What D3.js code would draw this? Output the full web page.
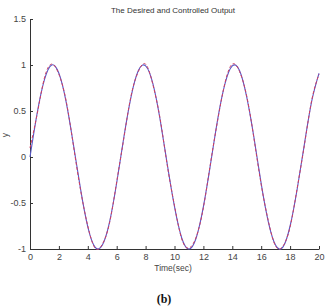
<!doctype html>
<html lang="en">
<head>
<meta charset="UTF-8">
<title>The Desired and Controlled Output</title>
<style>
  body { margin: 0; background: #fff; }
  svg { display: block; font-family: "Liberation Sans", Arial, sans-serif; }
  .axis path, .axis line { stroke: #333; }
  .axis text { fill: #444; font-size: 9px; }
</style>
</head>
<body>
<div class="chart"></div>
<script src="https://d3js.org/d3.v7.min.js"></script>
<script>
  const time = [0, 0.5, 1, 1.5, 2, 2.5, 3, 3.5, 4, 4.5, 5, 5.5, 6, 6.5, 7, 7.5, 8, 8.5, 9, 9.5,
    10, 10.5, 11, 11.5, 12, 12.5, 13, 13.5, 14, 14.5, 15, 15.5, 16, 16.5, 17, 17.5, 18, 18.5, 19, 19.5, 20]
  const desired = [0.0, 0.48, 0.84, 1.0, 0.91, 0.6, 0.14, -0.35, -0.76, -0.98, -0.96, -0.71, -0.28, 0.22, 0.66, 0.94, 0.99, 0.8, 0.41, -0.08,
    -0.54, -0.88, -1.0, -0.88, -0.54, -0.07, 0.42, 0.8, 0.99, 0.94, 0.65, 0.21, -0.29, -0.71, -0.96, -0.98, -0.75, -0.34, 0.15, 0.61, 0.91]
  const controlled = [0.1, 0.47, 0.86, 1.01, 0.9, 0.61, 0.13, -0.36, -0.75, -0.99, -0.95, -0.72, -0.27, 0.21, 0.67, 0.93, 1.01, 0.79, 0.42, -0.09,
    -0.53, -0.89, -0.99, -0.87, -0.55, -0.06, 0.41, 0.81, 1.01, 0.93, 0.66, 0.2, -0.3, -0.7, -0.97, -0.97, -0.76, -0.33, 0.14, 0.62, 0.9]
  const xTicks = [0, 2, 4, 6, 8, 10, 12, 14, 16, 18, 20]
  const yTicks = [-1, -0.5, 0, 0.5, 1, 1.5]

  ;(function () {
    const width = 327
    const height = 308
    const margin = {left: 30, right: 319, top: 19, bottom: 249}

    const svg = d3.select('.chart')
      .append('svg')
      .attr('width', width)
      .attr('height', height)

    const x = d3.scaleLinear().domain([0, 20]).range([margin.left, margin.right])
    const y = d3.scaleLinear().domain([-1, 1.5]).range([margin.bottom, margin.top])

    svg.append('g')
      .attr('class', 'axis')
      .attr('transform', `translate(0, ${margin.bottom})`)
      .call(d3.axisBottom(x).tickValues(xTicks).tickFormat(d3.format('d')).tickSizeInner(-3).tickSizeOuter(0).tickPadding(5))

    svg.append('g')
      .attr('class', 'axis')
      .attr('transform', `translate(${margin.left}, 0)`)
      .call(d3.axisLeft(y).tickValues(yTicks).tickFormat(d => d).tickSizeInner(-3).tickSizeOuter(0).tickPadding(4))

    const line = d3.line()
      .x((d, i) => x(time[i]))
      .y(d => y(d))
      .curve(d3.curveNatural)

    svg.append('path')
      .attr('d', line(desired))
      .attr('fill', 'none')
      .attr('stroke', '#5858c8')
      .attr('stroke-width', 1.1)

    svg.append('path')
      .attr('d', line(controlled))
      .attr('fill', 'none')
      .attr('stroke', '#d04060')
      .attr('stroke-width', 1)
      .attr('stroke-dasharray', '3,2')

    svg.append('text')
      .text('The Desired and Controlled Output')
      .attr('x', 173)
      .attr('y', 13)
      .attr('text-anchor', 'middle')
      .attr('font-size', 8)
      .attr('fill', '#333')

    svg.append('text')
      .text('Time(sec)')
      .attr('x', 173)
      .attr('y', 271)
      .attr('text-anchor', 'middle')
      .attr('font-size', 8.5)
      .attr('fill', '#444')

    svg.append('text')
      .text('y')
      .attr('transform', 'translate(8, 135) rotate(-90)')
      .attr('text-anchor', 'middle')
      .attr('font-size', 8.5)
      .attr('fill', '#444')

    svg.append('text')
      .text('(b)')
      .attr('x', 164)
      .attr('y', 303)
      .attr('text-anchor', 'middle')
      .attr('font-family', '"Liberation Serif", "Times New Roman", serif')
      .attr('font-weight', 'bold')
      .attr('font-size', 12)
      .attr('fill', '#111')
  })()
</script>
</body>
</html>
